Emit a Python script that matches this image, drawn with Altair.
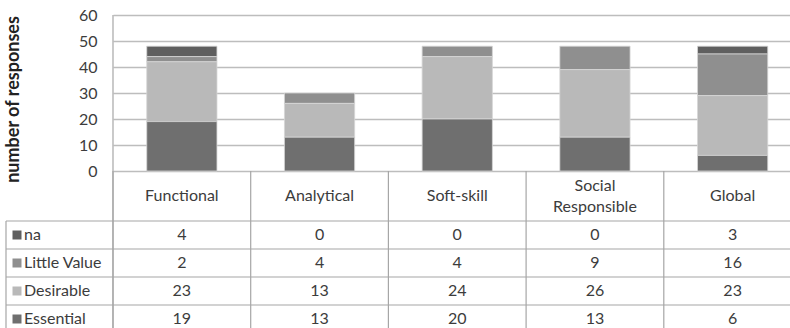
import altair as alt
import pandas as pd

categories = ["Functional", "Analytical", "Soft-skill", "Social Responsible", "Global"]
series = ["na", "Little Value", "Desirable", "Essential"]
na_vals = [4, 0, 0, 0, 3]
little_vals = [2, 4, 4, 9, 16]
desirable_vals = [23, 13, 24, 26, 23]
essential_vals = [19, 13, 20, 13, 6]
y_ticks = [0, 10, 20, 30, 40, 50, 60]
colors = ["#5f5f5f", "#8f8f8f", "#b9b9b9", "#6f6f6f"]

values_by_series = {
    "na": na_vals,
    "Little Value": little_vals,
    "Desirable": desirable_vals,
    "Essential": essential_vals,
}
stack_rank = {"Essential": 0, "Desirable": 1, "Little Value": 2, "na": 3}

rows = []
for s in series:
    for c, v in zip(categories, values_by_series[s]):
        rows.append({"category": c, "series": s, "value": v, "rank": stack_rank[s]})
df = pd.DataFrame(rows)
cat_df = pd.DataFrame({"category": categories})
ser_df = pd.DataFrame({"series": series})
one = pd.DataFrame({"k": [0]})

FONT = "Lato"
FS = 16
TXT = "#3c3c3c"
LINE = "#a6a6a6"
W, H = 677, 313

xscale = alt.Scale(type="band", domain=categories, range=[0, 688.5], paddingInner=0, paddingOuter=0)
tscale = alt.Scale(type="band", domain=series, range=[206, 318], paddingInner=0, paddingOuter=0)
cscale = alt.Scale(domain=series, range=colors)

X = alt.X("category:N", scale=xscale, axis=None)
Xedge = alt.X("category:N", scale=xscale, axis=None, bandPosition=0)
Yrow = alt.Y("series:N", scale=tscale, axis=None)

bars = alt.Chart(df).transform_filter("datum.value > 0").mark_bar(
    width=alt.RelativeBandSize(0.51), stroke="#d6d6d6", strokeWidth=0.8
).encode(
    x=X,
    y=alt.Y(
        "value:Q",
        stack="zero",
        scale=alt.Scale(domain=[0, 60], range=[156, 0]),
        axis=alt.Axis(
            values=y_ticks,
            grid=True,
            gridColor="#bdbdbd",
            gridWidth=1.4,
            domain=False,
            ticks=False,
            labelPadding=16,
            labelFont=FONT,
            labelFontSize=FS,
            labelColor=TXT,
            title="number of responses",
            titleFont=FONT,
            titleFontSize=18,
            titleFontWeight="bold",
            titleColor="#222222",
            titleAngle=270,
            titleX=-100,
            titleY=84,
            titleAlign="center",
            titleBaseline="middle",
        ),
    ),
    color=alt.Color("series:N", scale=cscale, legend=None),
    order=alt.Order("rank:Q"),
)

left_border = alt.Chart(one).mark_rule(color=LINE, strokeWidth=1.2).encode(
    x=alt.value(0), y=alt.value(0), y2=alt.value(H)
)
label_border = alt.Chart(one).mark_rule(color=LINE, strokeWidth=1.2).encode(
    x=alt.value(-107), y=alt.value(206), y2=alt.value(H)
)
col_lines = alt.Chart(cat_df).mark_rule(color=LINE, strokeWidth=1.2).encode(
    x=Xedge, y=alt.value(156), y2=alt.value(H)
)
row_lines = alt.Chart(ser_df).mark_rule(color=LINE, strokeWidth=1.2).encode(
    y=alt.Y("series:N", scale=tscale, axis=None, bandPosition=0),
    x=alt.value(-107), x2=alt.value(W),
)
header_base = alt.Chart(cat_df).transform_calculate(
    lines="split(datum.category, ' ')", n="length(split(datum.category, ' '))"
)
header_one = header_base.transform_filter("datum.n == 1").mark_text(
    font=FONT, fontSize=FS, color=TXT, baseline="middle"
).encode(x=X, y=alt.value(181), text="category:N")
header_two = header_base.transform_filter("datum.n > 1").mark_text(
    font=FONT, fontSize=FS, color=TXT, lineHeight=21, baseline="middle", dy=-10.5
).encode(x=X, y=alt.value(181), text="lines:N")
cells = alt.Chart(df).mark_text(font=FONT, fontSize=FS, color=TXT, baseline="middle").encode(
    x=X, y=Yrow, text="value:Q"
)
keys = alt.Chart(ser_df).mark_square(size=81, opacity=1).encode(
    x=alt.value(-96), y=Yrow, color=alt.Color("series:N", scale=cscale, legend=None)
)
key_labels = alt.Chart(ser_df).mark_text(
    font=FONT, fontSize=FS, color=TXT, align="left", baseline="middle"
).encode(x=alt.value(-89), y=Yrow, text="series:N")

chart = alt.layer(
    bars, left_border, label_border, col_lines, row_lines,
    header_one, header_two, cells, keys, key_labels
).resolve_scale(y="independent").properties(
    width=W,
    height=H,
    autosize=alt.AutoSizeParams(type="none"),
    padding={"left": 113, "top": 15, "right": 0, "bottom": 0},
    background="white",
).configure_view(stroke=None)

chart.save("out.html", embed_options={"renderer": "svg", "actions": False})
